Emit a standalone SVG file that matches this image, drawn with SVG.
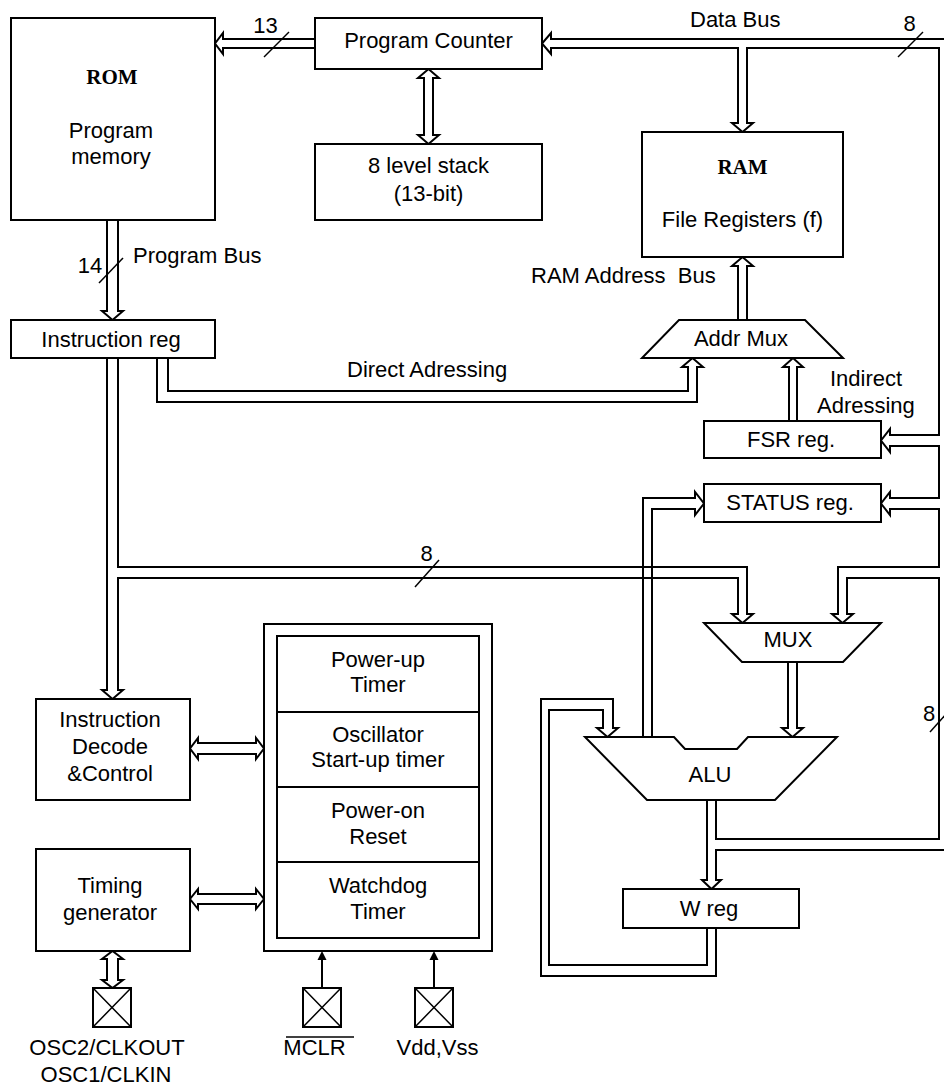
<svg xmlns="http://www.w3.org/2000/svg" width="944" height="1086" viewBox="0 0 944 1086">
<style>
.box{fill:#fff;stroke:#000;stroke-width:2}
.ln{fill:none;stroke:#000;stroke-width:2;stroke-linejoin:miter}
.bi{fill:#fff;stroke:#000;stroke-width:2;stroke-linejoin:miter}
.thin{fill:none;stroke:#000;stroke-width:1.5}
text{font-family:"Liberation Sans",Arial,sans-serif;font-size:22px;fill:#000}
.c{text-anchor:middle}
.sf{font-family:"Liberation Serif","Times New Roman",serif;font-weight:bold;font-size:21px}
</style>
<defs>
<g id="pinX"><rect class="box" x="0" y="0" width="38" height="39"/><path class="thin" d="M0 0 L38 39 M38 0 L0 39"/></g>
</defs>
<rect width="944" height="1086" fill="#fff"/>

<g id="connectors">
<path class="ln" d="M315 39 L223 39 L223 33 L215 43.5 L223 54 L223 48 L315 48"/>
<path class="thin" d="M264 57 L289 32"/>
<text x="265.5" y="33" class="c">13</text>
<path class="bi" d="M424 78 L418 78 L428.5 69 L439 78 L433 78 L433 135 L439 135 L428.5 144 L418 135 L424 135 Z"/>
<path class="ln" d="M950 39 L551 39 L551 33 L542 43.5 L551 54 L551 48 L738 48 L738 123 L732 123 L742.5 132 L753 123 L747 123 L747 48 L939 48 L939 435 L890 435 L890 429 L881 440.5 L890 452 L890 446 L939 446 L939 498 L890 498 L890 492 L881 503.5 L890 515 L890 509 L939 509 L939 567 L838 567 L838 614 L832 614 L842.5 623 L853 614 L847 614 L847 578 L939 578 L939 839 L716 839 L716 800"/>
<text x="690" y="27">Data Bus</text>
<path class="thin" d="M898 57 L923 32"/>
<text x="909.5" y="31" class="c">8</text>
<path class="ln" d="M950 850 L716 850 L716 880 L721 880 L711.5 889 L702 880 L707 880 L707 800"/>
<path class="thin" d="M930 732 L948 712"/>
<text x="929" y="721" class="c">8</text>
<path class="ln" d="M107 220 L107 311 L102 311 L112.5 320 L123 311 L118 311 L118 220"/>
<path class="thin" d="M99 283 L123 258"/>
<text x="90" y="273" class="c">14</text>
<text x="133" y="263">Program Bus</text>
<path class="ln" d="M118 358 L118 567 L747 567 L747 614 L753 614 L742.5 623 L732 614 L738 614 L738 578 L118 578 L118 690 L123 690 L112.5 699 L102 690 L107 690 L107 358"/>
<path class="thin" d="M415 587 L439 560"/>
<text x="426.5" y="561" class="c">8</text>
<path class="ln" d="M168 358 L168 391 L688 391 L688 367 L682 367 L692.5 358 L703 367 L697 367 L697 402 L157 402 L157 358"/>
<text x="347" y="377">Direct Adressing</text>
<path class="ln" d="M738 320 L738 266 L732 266 L742.5 257 L753 266 L747 266 L747 320"/>
<text x="531" y="283" xml:space="preserve">RAM Address  Bus</text>
<path class="ln" d="M789 421 L789 367 L783 367 L793 358 L803 367 L797 367 L797 421"/>
<text x="830" y="386">Indirect</text>
<text x="817" y="413">Adressing</text>
<path class="ln" d="M788 662 L788 728 L782 728 L792.5 737 L803 728 L797 728 L797 662"/>
<path class="ln" d="M643 737 L643 498 L695 498 L695 492 L704 503.5 L695 515 L695 509 L652 509 L652 737"/>
<path class="ln" d="M707 928 L707 965 L549 965 L549 710 L603 710 L603 728 L597 728 L607.5 737 L618 728 L613 728 L613 699 L541 699 L541 976 L716 976 L716 928"/>
<path class="bi" d="M198 743 L198 738 L190 748.5 L198 759 L198 754 L256 754 L256 759 L264 748.5 L256 738 L256 743 Z"/>
<path class="bi" d="M198 894 L198 889 L190 899 L198 909 L198 904 L256 904 L256 909 L264 899 L256 889 L256 894 Z"/>
<path class="bi" d="M107 959 L102 959 L112.5 951 L123 959 L118 959 L118 980 L123 980 L112.5 988 L102 980 L107 980 Z"/>
<path class="ln" d="M322 988 L322 958"/>
<path d="M317.5 960 L322 951 L326.5 960 Z" fill="#000"/>
<path class="ln" d="M434 988 L434 958"/>
<path d="M429.5 960 L434 951 L438.5 960 Z" fill="#000"/>
</g>

<g id="rom"><rect class="box" x="11" y="18" width="204" height="202"/>
<text x="112" y="84" class="c sf">ROM</text>
<text x="111" y="138" class="c">Program</text>
<text x="111" y="164" class="c">memory</text></g>

<g id="pc"><rect class="box" x="315" y="18" width="227" height="51"/>
<text x="428.5" y="48" class="c">Program Counter</text></g>

<g id="stack"><rect class="box" x="315" y="144" width="227" height="76"/>
<text x="428.5" y="173" class="c">8 level stack</text>
<text x="428.5" y="201" class="c">(13-bit)</text></g>

<g id="ram"><rect class="box" x="642" y="132" width="201" height="125"/>
<text x="742.5" y="174" class="c sf">RAM</text>
<text x="742.5" y="227" class="c">File Registers (f)</text></g>

<g id="ireg"><rect class="box" x="11" y="320" width="204" height="38"/>
<text x="111" y="347" class="c">Instruction reg</text></g>

<g id="addrmux"><path class="box" d="M679 320 L805 320 L843 358 L642 358 Z"/>
<text x="741" y="346" class="c">Addr Mux</text></g>

<g id="fsr"><rect class="box" x="704" y="421" width="177" height="37"/>
<text x="791" y="447" class="c">FSR reg.</text></g>

<g id="status"><rect class="box" x="704" y="484" width="177" height="38"/>
<text x="790" y="510" class="c">STATUS reg.</text></g>

<g id="mux"><path class="box" d="M704 623 L881 623 L843 662 L742 662 Z"/>
<text x="788" y="647" class="c">MUX</text></g>

<g id="alu"><path class="box" d="M585 737 L674 737 L685 749 L737 749 L748 737 L837 737 L775 800 L647 800 Z"/>
<text x="710" y="782" class="c">ALU</text></g>

<g id="wreg"><rect class="box" x="623" y="889" width="176" height="39"/>
<text x="709" y="916" class="c">W reg</text></g>

<g id="idecode"><rect class="box" x="36" y="699" width="154" height="101"/>
<text x="110" y="727" class="c">Instruction</text>
<text x="110" y="754" class="c">Decode</text>
<text x="110" y="781" class="c">&amp;Control</text></g>

<g id="timing"><rect class="box" x="36" y="849" width="154" height="102"/>
<text x="110" y="893" class="c">Timing</text>
<text x="110" y="920" class="c">generator</text></g>

<g id="powerblock"><rect class="box" x="264" y="624" width="228" height="327"/>
<rect class="box" x="277" y="636" width="202" height="302"/>
<path class="ln" d="M277 712 L479 712 M277 787 L479 787 M277 862 L479 862"/>
<text x="378" y="667" class="c">Power-up</text>
<text x="378" y="692" class="c">Timer</text>
<text x="378" y="742" class="c">Oscillator</text>
<text x="378" y="767" class="c">Start-up timer</text>
<text x="378" y="818" class="c">Power-on</text>
<text x="378" y="844" class="c">Reset</text>
<text x="378" y="893" class="c">Watchdog</text>
<text x="378" y="919" class="c">Timer</text></g>

<g id="osc"><use href="#pinX" x="93" y="988"/>
<text x="107" y="1055" class="c">OSC2/CLKOUT</text>
<text x="106" y="1082" class="c">OSC1/CLKIN</text></g>

<g id="mclr"><use href="#pinX" x="303" y="988"/>
<text x="314.5" y="1055" class="c">MCLR</text>
<path class="thin" d="M286 1037 L354 1037"/></g>

<g id="vdd"><use href="#pinX" x="415" y="988"/>
<text x="437.5" y="1055" class="c">Vdd,Vss</text></g>
</svg>
